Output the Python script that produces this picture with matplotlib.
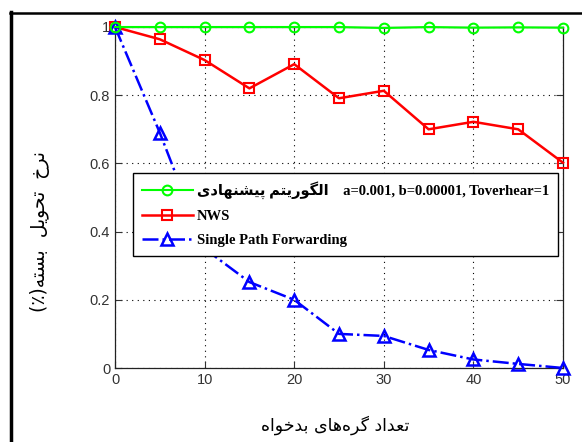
import matplotlib
matplotlib.use("Agg")
import matplotlib.pyplot as plt
from matplotlib.lines import Line2D

# ------------------------------------------------------------
# data
# ------------------------------------------------------------
nodes = [0, 5, 10, 15, 20, 25, 30, 35, 40, 45, 50]
proposed = [1, 1, 1, 1, 1, 1, 0.997, 1, 0.998, 0.999, 0.998]
nws = [1, 0.964, 0.903, 0.82, 0.891, 0.791, 0.813, 0.70, 0.722, 0.70, 0.602]
single_path = [1, 0.69, 0.35, 0.252, 0.20, 0.10, 0.094, 0.053, 0.025, 0.012, 0.0]

x_ticks = [0, 10, 20, 30, 40, 50]
y_ticks = [0, 0.2, 0.4, 0.6, 0.8, 1]
y_tick_labels = ["0", "0.2", "0.4", "0.6", "0.8", "1"]

label_proposed = "الگوریتم پیشنهادی"
label_params = "a=0.001, b=0.00001, Toverhear=1"
label_nws = "NWS"
label_single = "Single Path Forwarding"
x_title = "تعداد گره\u200cهای بدخواه"
y_title = "نرخ  تحویل  بسته(٪)"

# ------------------------------------------------------------
# small Persian shaper (matplotlib does not join Arabic letters)
# (isolated, final, initial, medial)
# ------------------------------------------------------------
FORMS = {
    "ا": ("\uFE8D", "\uFE8E"), "د": ("\uFEA9", "\uFEAA"), "ر": ("\uFEAD", "\uFEAE"),
    "و": ("\uFEED", "\uFEEE"),
    "ب": ("\uFE8F", "\uFE90", "\uFE91", "\uFE92"), "پ": ("\uFB56", "\uFB57", "\uFB58", "\uFB59"),
    "ت": ("\uFE95", "\uFE96", "\uFE97", "\uFE98"), "ح": ("\uFEA1", "\uFEA2", "\uFEA3", "\uFEA4"),
    "خ": ("\uFEA5", "\uFEA6", "\uFEA7", "\uFEA8"), "س": ("\uFEB1", "\uFEB2", "\uFEB3", "\uFEB4"),
    "ش": ("\uFEB5", "\uFEB6", "\uFEB7", "\uFEB8"), "ع": ("\uFEC9", "\uFECA", "\uFECB", "\uFECC"),
    "گ": ("\uFB92", "\uFB93", "\uFB94", "\uFB95"), "ل": ("\uFEDD", "\uFEDE", "\uFEDF", "\uFEE0"),
    "م": ("\uFEE1", "\uFEE2", "\uFEE3", "\uFEE4"), "ن": ("\uFEE5", "\uFEE6", "\uFEE7", "\uFEE8"),
    "ه": ("\uFEE9", "\uFEEA", "\uFEEB", "\uFEEC"), "ی": ("\uFBFC", "\uFBFD", "\uFBFE", "\uFBFF"),
}
MIRROR = {"(": ")", ")": "("}


def persian(text):
    out = []
    for i, ch in enumerate(text):
        if ch not in FORMS:
            if ch != "\u200c":
                out.append(MIRROR.get(ch, ch))
            continue
        prev = text[i - 1] if i > 0 else ""
        nxt = text[i + 1] if i + 1 < len(text) else ""
        join_prev = prev in FORMS and len(FORMS[prev]) == 4
        join_next = nxt in FORMS and len(FORMS[ch]) == 4
        f = FORMS[ch]
        if join_prev and join_next:
            out.append(f[3])
        elif join_prev:
            out.append(f[1])
        elif join_next:
            out.append(f[2])
        else:
            out.append(f[0])
    return "".join(reversed(out))


# ------------------------------------------------------------
# plot
# ------------------------------------------------------------
fig = plt.figure(figsize=(5.82, 4.42), dpi=100)
ax = fig.add_axes([115 / 582, 1 - 368 / 442, 448 / 582, 341 / 442])

ax.plot(nodes, proposed, color=(0, 1, 0), lw=1.5, marker="o", ms=7, mfc="none",
        mew=1.5, clip_on=False, zorder=4,
        label=persian(label_proposed) + "    " + label_params)
ax.plot(nodes, nws, color=(1, 0, 0), lw=1.8, marker="s", ms=7, mfc="none",
        mew=1.5, clip_on=False, zorder=3, label=label_nws)
ax.plot(nodes, single_path, color=(0, 0, 1), lw=1.8, ls="-.", marker="^", ms=8,
        mfc="none", mew=1.8, clip_on=False, zorder=3, label=label_single)

ax.set_xlim(0, 50)
ax.set_ylim(0, 1)
ax.set_xticks(x_ticks)
ax.set_yticks(y_ticks)
ax.set_yticklabels(y_tick_labels)
ax.grid(True, color="black", ls=(0, (1, 4)), lw=0.8)
ax.tick_params(direction="in", top=True, right=True, length=5, width=0.8,
               labelsize=10.5, labelcolor="#333333", color="#333333")
for lab in ax.get_xticklabels() + ax.get_yticklabels():
    lab.set_family("Liberation Sans")
for sp in ax.spines.values():
    sp.set_color("#222222")
    sp.set_linewidth(0.9)

leg = ax.legend(loc="upper left", bbox_to_anchor=(0.04, 0.572), borderaxespad=0,
                handlelength=3.5, handletextpad=0.3, labelspacing=0.72,
                borderpad=0.6, fancybox=False, framealpha=1,
                prop={"family": ["Liberation Serif", "DejaVu Sans"],
                      "weight": "bold", "size": 10.5})
leg.get_frame().set_edgecolor("black")
leg.get_frame().set_linewidth(1.0)
leg.set_zorder(5)

fig.text(335 / 582, 1 - 425 / 442, persian(x_title), ha="center", va="center",
         fontsize=12.5, family=["DejaVu Sans"])
fig.text(40 / 582, 1 - 232 / 442, persian(y_title), ha="center", va="center",
         rotation=90, fontsize=13.5, family=["DejaVu Sans"])

# black frame of the original screenshot (left and top edges)
fig.add_artist(Line2D([11, 11], [0, 430], color="black", lw=2.5,
                      transform=None))
fig.add_artist(Line2D([10, 582], [429, 429], color="black", lw=1.8,
                      transform=None))

fig.savefig("out.png", dpi=100)
